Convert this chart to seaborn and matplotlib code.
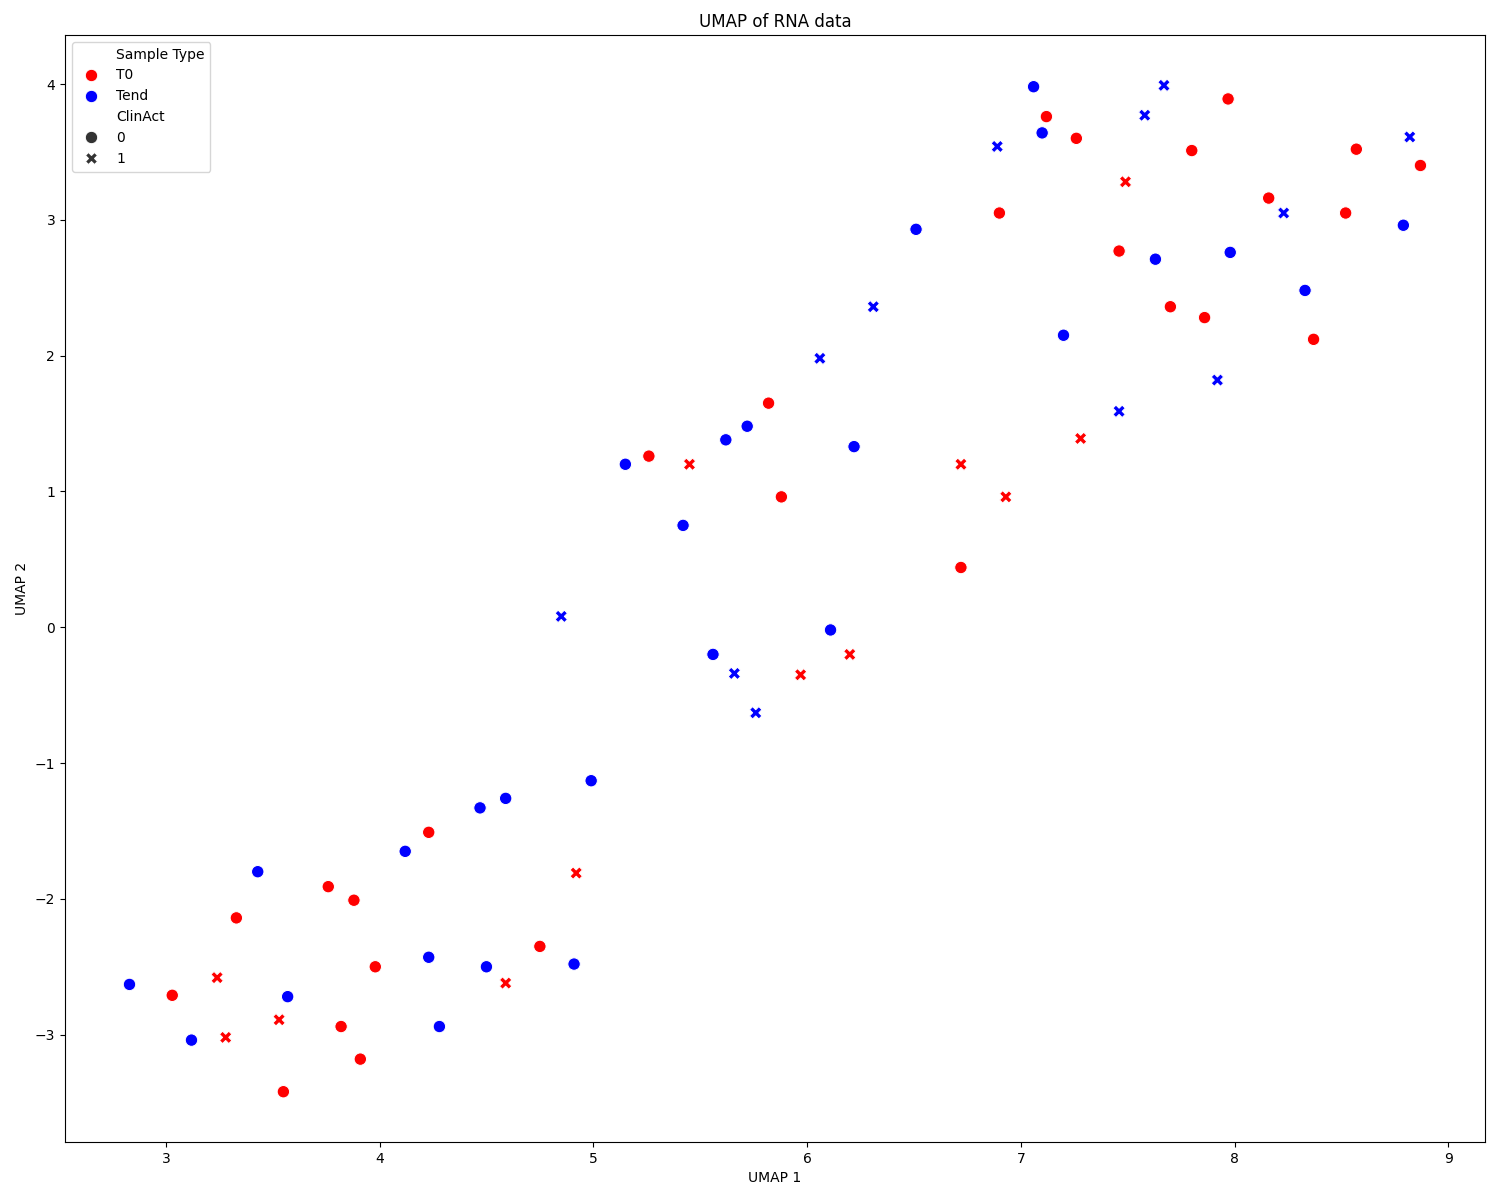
import numpy as np
import pandas as pd
import matplotlib
matplotlib.use("Agg")
import matplotlib.pyplot as plt
import seaborn as sns

# T0, ClinAct 0
t0_c0_x = [3.03, 3.33, 3.55, 3.76, 3.88, 3.82, 3.91, 3.98, 4.23, 4.75, 5.26, 5.82, 5.88, 6.72,
           6.90, 7.12, 7.26, 7.46, 7.70, 7.80, 7.86, 7.97, 8.16, 8.37, 8.52, 8.57, 8.87]
t0_c0_y = [-2.71, -2.14, -3.42, -1.91, -2.01, -2.94, -3.18, -2.50, -1.51, -2.35, 1.26, 1.65, 0.96, 0.44,
           3.05, 3.76, 3.60, 2.77, 2.36, 3.51, 2.28, 3.89, 3.16, 2.12, 3.05, 3.52, 3.40]
# T0, ClinAct 1
t0_c1_x = [3.24, 3.28, 3.53, 4.59, 4.92, 5.45, 5.97, 6.20, 6.72, 6.93, 7.28, 7.49]
t0_c1_y = [-2.58, -3.02, -2.89, -2.62, -1.81, 1.20, -0.35, -0.20, 1.20, 0.96, 1.39, 3.28]
# Tend, ClinAct 0
te_c0_x = [2.83, 3.12, 3.43, 3.57, 4.12, 4.23, 4.28, 4.47, 4.50, 4.59, 4.91, 4.99, 5.15, 5.42,
           5.56, 5.62, 5.72, 6.11, 6.22, 6.51, 7.06, 7.10, 7.20, 7.63, 7.98, 8.33, 8.79]
te_c0_y = [-2.63, -3.04, -1.80, -2.72, -1.65, -2.43, -2.94, -1.33, -2.50, -1.26, -2.48, -1.13, 1.20, 0.75,
           -0.20, 1.38, 1.48, -0.02, 1.33, 2.93, 3.98, 3.64, 2.15, 2.71, 2.76, 2.48, 2.96]
# Tend, ClinAct 1
te_c1_x = [4.85, 5.66, 5.76, 6.06, 6.31, 6.89, 7.46, 7.58, 7.67, 7.92, 8.23, 8.82]
te_c1_y = [0.08, -0.34, -0.63, 1.98, 2.36, 3.54, 1.59, 3.77, 3.99, 1.82, 3.05, 3.61]

sample_types = ["T0", "Tend"]
clinact_levels = [0, 1]
palette = {"T0": "red", "Tend": "blue"}

frames = []
for st, ca, xs, ys in [("T0", 0, t0_c0_x, t0_c0_y), ("T0", 1, t0_c1_x, t0_c1_y),
                       ("Tend", 0, te_c0_x, te_c0_y), ("Tend", 1, te_c1_x, te_c1_y)]:
    frames.append(pd.DataFrame({"UMAP 1": xs, "UMAP 2": ys, "Sample Type": st, "ClinAct": ca}))
df = pd.concat(frames, ignore_index=True)

fig, ax = plt.subplots(figsize=(15, 12), dpi=100)
sns.scatterplot(data=df, x="UMAP 1", y="UMAP 2", hue="Sample Type", style="ClinAct",
                hue_order=sample_types, style_order=clinact_levels, palette=palette,
                s=80, ax=ax)
ax.set_title("UMAP of RNA data")
ax.legend(loc="upper left")
fig.subplots_adjust(left=0.0433, right=0.99, top=0.9708, bottom=0.0483)
plt.savefig("out.png", dpi=100)
